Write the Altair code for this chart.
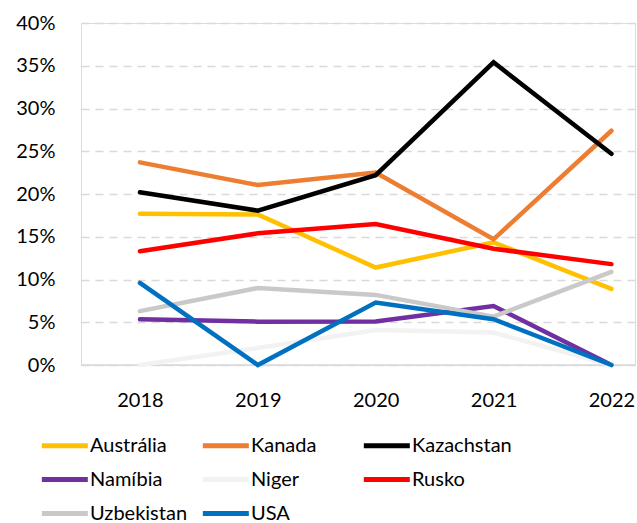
import altair as alt
import pandas as pd

years = [2018, 2019, 2020, 2021, 2022]
countries = ["Austrália", "Kanada", "Kazachstan", "Namíbia", "Niger", "Rusko", "Uzbekistan", "USA"]
colors = ["#FFC000", "#ED7D31", "#000000", "#7030A0", "#F2F2F2", "#FF0000", "#C9C9C9", "#0070C0"]

australia = [0.177, 0.176, 0.114, 0.1435, 0.089]
kanada = [0.237, 0.2105, 0.225, 0.147, 0.274]
kazachstan = [0.202, 0.1805, 0.222, 0.354, 0.247]
namibia = [0.0535, 0.0507, 0.051, 0.069, 0.0]
niger = [0.0, 0.020, 0.041, 0.038, 0.0]
rusko = [0.133, 0.154, 0.165, 0.136, 0.118]
uzbekistan = [0.063, 0.090, 0.082, 0.0565, 0.109]
usa = [0.096, 0.0, 0.073, 0.0535, 0.0]

series = [australia, kanada, kazachstan, namibia, niger, rusko, uzbekistan, usa]
rows = []
for i, (c, vals) in enumerate(zip(countries, series)):
    for y, v in zip(years, vals):
        rows.append({"Země": c, "Rok": y, "Podíl": v, "ord": i})
df = pd.DataFrame(rows)

FONT = "Lato"

chart = alt.Chart(df).mark_line(strokeWidth=4.5, strokeCap="round", strokeJoin="miter").encode(
    x=alt.X("Rok:Q",
            scale=alt.Scale(domain=[2017.5, 2022.2], nice=False, zero=False),
            axis=alt.Axis(values=years, format="d", title=None, grid=False, ticks=False,
                          domain=False, labelFontSize=20, labelFont=FONT, labelColor="#000000",
                          labelPadding=25)),
    y=alt.Y("Podíl:Q",
            scale=alt.Scale(domain=[0, 0.4], nice=False),
            axis=alt.Axis(values=[0, 0.05, 0.1, 0.15, 0.2, 0.25, 0.3, 0.35, 0.4], format=".0%",
                          title=None, ticks=False, domain=False, grid=True,
                          gridColor="#D9D9D9", gridWidth=1.5, gridDash=[8, 6],
                          labelFontSize=20, labelFont=FONT, labelColor="#000000",
                          labelPadding=26)),
    color=alt.Color("Země:N",
                    scale=alt.Scale(domain=countries, range=colors),
                    legend=alt.Legend(title=None, orient="none", legendX=-42, legendY=412,
                                      columns=3, direction="horizontal", gridAlign="all",
                                      columnPadding=2, rowPadding=13,
                                      symbolType="M-1,0H5", symbolSize=235, symbolStrokeWidth=5,
                                      labelFontSize=20, labelFont=FONT, labelColor="#000000",
                                      labelOffset=30, labelLimit=200)),
    order=alt.Order("ord:Q"),
)

zero_line = alt.Chart(pd.DataFrame({"y": [0.0]})).mark_rule(color="#D9D9D9", strokeWidth=1.5).encode(
    y="y:Q"
)

final = alt.layer(zero_line, chart).properties(
    width=554, height=342,
    padding={"left": 81, "top": 23, "right": 2, "bottom": 158},
    autosize=alt.AutoSizeParams(type="none"),
).configure_view(stroke=None).configure(background="#FFFFFF")

final.save("out.html", embed_options={"renderer": "svg", "actions": False})
